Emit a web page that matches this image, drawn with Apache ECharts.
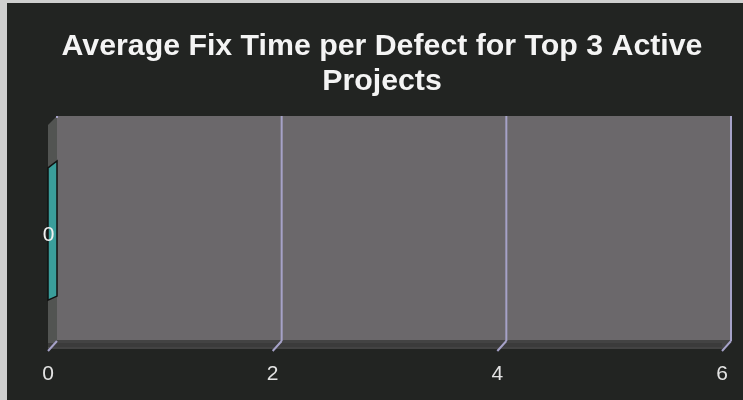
<!DOCTYPE html>
<html>
<head>
<meta charset="utf-8">
<script src="https://cdn.jsdelivr.net/npm/echarts@6/dist/echarts.min.js"></script>
<style>
  html, body { margin: 0; padding: 0; background: #cfcfcf; width: 743px; height: 400px; overflow: hidden; }
  #chart { position: absolute; left: 7px; top: 3px; width: 736px; height: 397px; }
</style>
</head>
<body>
<div id="chart"></div>
<script>
// ---- data ----
const titleText = 'Average Fix Time per Defect for Top 3 Active\nProjects';
const categories = ['Project'];
const fixTimes = [0];
const xTicks = [0, 2, 4, 6];

// ---- styling constants ----
const DX = 9, DY = -9;          // 3D depth offset
const BAR_DY = -7;               // bar end-cap depth offset (y)

const chart = echarts.init(document.getElementById('chart'), null, { renderer: 'canvas' });

const option = {
  backgroundColor: '#222422',
  animation: false,
  title: {
    text: titleText,
    left: 370,
    top: 21,
    textAlign: 'center',
    textStyle: {
      color: '#f4f4f4',
      fontFamily: 'Liberation Sans',
      fontWeight: 'bold',
      fontSize: 30.3,
      lineHeight: 35
    }
  },
  grid: { left: 41, right: 21, top: 122, bottom: 51, containLabel: false },
  xAxis: {
    type: 'value',
    min: 0, max: 6, interval: 2,
    axisLine: { show: false },
    axisTick: { show: false },
    splitLine: { show: false },
    axisLabel: {
      color: '#e4e4e4',
      fontFamily: 'Liberation Sans',
      fontSize: 21,
      margin: 15,
      showMinLabel: true, showMaxLabel: true
    }
  },
  yAxis: {
    type: 'category',
    data: categories,
    axisLine: { show: false },
    axisTick: { show: false },
    axisLabel: { show: false },
    splitLine: { show: false }
  },
  series: [
    {
      // walls (back wall, left wall, floor)
      type: 'custom',
      name: 'walls',
      z: 1,
      silent: true,
      data: [[0, 0]],
      renderItem: function (params, api) {
        const cs = params.coordSys;
        const x0 = cs.x, y0 = cs.y, x1 = cs.x + cs.width, y1 = cs.y + cs.height;
        return {
          type: 'group',
          children: [
            { type: 'rect', shape: { x: x0 + DX, y: y0 + DY, width: cs.width, height: cs.height },
              style: { fill: '#6b686b' } },
            { type: 'polygon', shape: { points: [[x0, y0], [x0 + DX, y0 + DY], [x0 + DX, y1 + DY], [x0, y1]] },
              style: { fill: '#525452' } },
            { type: 'polygon', shape: { points: [[x0, y1], [x0 + DX, y1 + DY], [x1 + DX, y1 + DY], [x1, y1]] },
              style: { fill: '#434343' } },
            { type: 'line', shape: { x1: x0, y1: y1 - 4, x2: x1, y2: y1 - 4 },
              style: { stroke: '#3b3b3b', lineWidth: 4 } }
          ]
        };
      }
    },
    {
      // grid lines drawn on the back wall + depth ticks on the floor
      type: 'custom',
      name: 'gridlines',
      z: 2,
      silent: true,
      data: xTicks.map(v => [v, 0]),
      renderItem: function (params, api) {
        const cs = params.coordSys;
        const x = api.coord([api.value(0), 0])[0];
        const y0 = cs.y, y1 = cs.y + cs.height;
        const children = [
          { type: 'line', shape: { x1: x, y1: y1 + 2, x2: x + DX, y2: y1 + DY + 1 },
            style: { stroke: '#a6a2c8', lineWidth: 2 } }
        ];
        if (api.value(0) > 0) {
          children.push({ type: 'line', shape: { x1: x + DX, y1: y0 + DY, x2: x + DX, y2: y1 + DY + 1 },
            style: { stroke: '#a6a2c8', lineWidth: 2 } });
        } else {
          children.push({ type: 'line', shape: { x1: x + DX, y1: y0 + DY, x2: x + DX, y2: y0 + DY + 2 },
            style: { stroke: '#a6a2c8', lineWidth: 2 } });
        }
        return { type: 'group', children: children };
      }
    },
    {
      // the bars (3D end caps)
      type: 'custom',
      name: 'Average Fix Time',
      z: 5,
      data: fixTimes.map((v, i) => [v, i]),
      renderItem: function (params, api) {
        const p = api.coord([api.value(0), api.value(1)]);
        const band = api.size([0, 1])[1];
        const h = band * 0.59;
        const cy = p[1] - 3;
        const pts = [
          [p[0], cy - h / 2],
          [p[0] + DX, cy - h / 2 + BAR_DY],
          [p[0] + DX, cy + h / 2 + BAR_DY + 3],
          [p[0], cy + h / 2]
        ];
        return {
          type: 'group',
          children: [
            { type: 'polygon', shape: { points: pts },
              style: { fill: '#3a9e9b', stroke: '#111111', lineWidth: 1.5 } },
            { type: 'text', x: p[0] + 0.5, y: cy + 1.5,
              style: { text: String(api.value(0)), fill: '#f0f0f0', fontSize: 21,
                       fontFamily: 'Liberation Sans', align: 'center', verticalAlign: 'middle' } }
          ]
        };
      }
    }
  ]
};

chart.setOption(option);
</script>
</body>
</html>
